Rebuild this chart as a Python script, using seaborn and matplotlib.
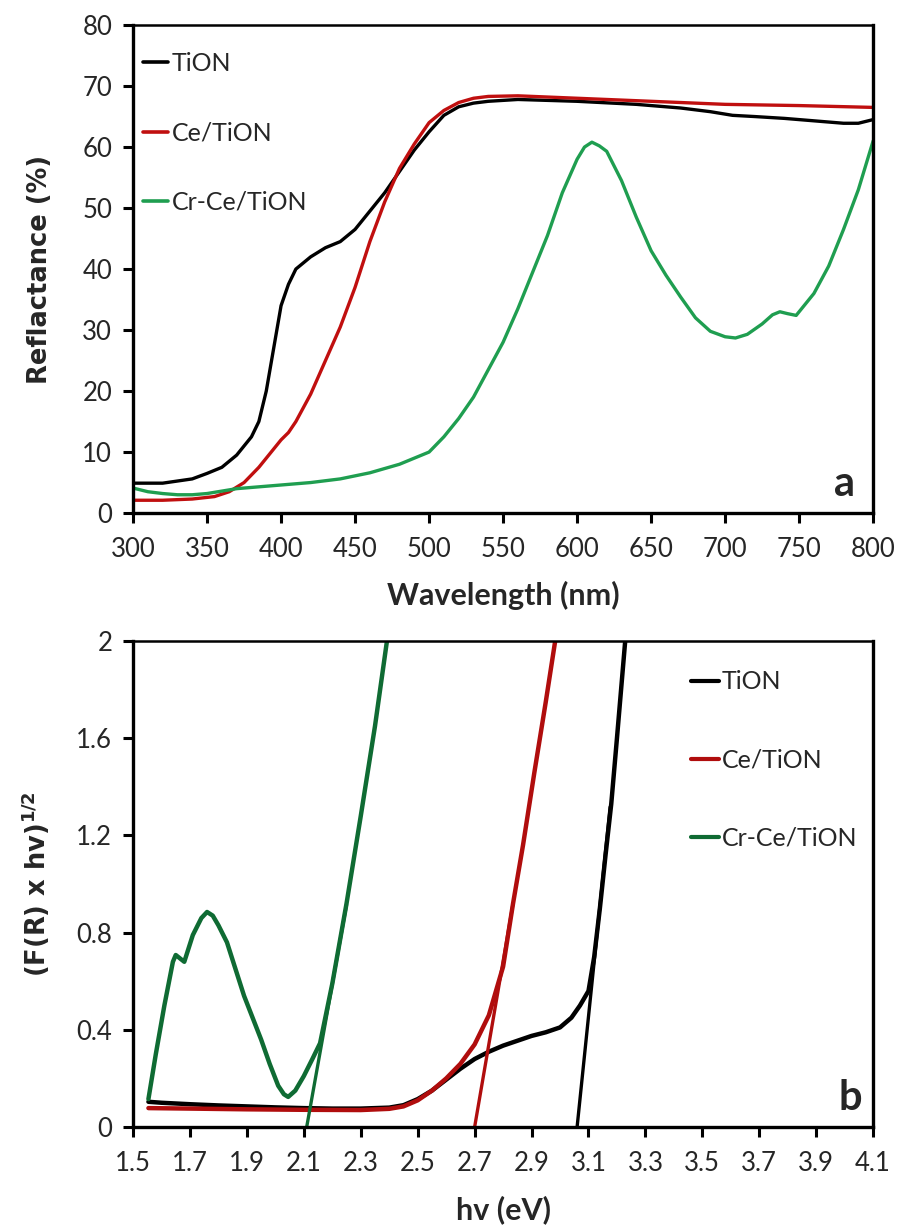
import numpy as np
import pandas as pd
import matplotlib
matplotlib.use("Agg")
import matplotlib.pyplot as plt
from matplotlib.lines import Line2D
import seaborn as sns

# ---------------- data: panel a (reflectance) ----------------
wl_tion = [300, 320, 340, 350, 360, 370, 380, 385, 390, 395, 400, 405, 410, 420, 430, 440,
           450, 460, 470, 480, 490, 500, 510, 520, 530, 540, 560, 600, 640, 670, 690, 705,
           720, 740, 760, 780, 790, 800]
r_tion = [4.9, 4.9, 5.6, 6.5, 7.5, 9.5, 12.5, 15.0, 20.0, 27.0, 34.0, 37.5, 40.0, 42.0, 43.5,
          44.5, 46.5, 49.5, 52.5, 56.0, 59.5, 62.5, 65.2, 66.6, 67.2, 67.5, 67.8, 67.5, 67.0,
          66.4, 65.8, 65.2, 65.0, 64.7, 64.3, 63.9, 63.9, 64.5]

wl_ce = [300, 320, 340, 355, 365, 375, 385, 395, 400, 405, 410, 420, 430, 440, 450, 460, 470,
         480, 490, 500, 510, 520, 530, 540, 560, 600, 650, 700, 750, 800]
r_ce = [2.1, 2.1, 2.3, 2.7, 3.5, 5.0, 7.5, 10.5, 12.0, 13.2, 15.0, 19.5, 25.0, 30.5, 37.0,
        44.5, 51.0, 56.5, 60.5, 64.0, 66.0, 67.3, 68.0, 68.3, 68.4, 68.0, 67.5, 67.0, 66.8, 66.5]

wl_cr = [300, 310, 320, 330, 340, 350, 360, 370, 380, 400, 420, 440, 460, 480, 500, 510, 520,
         530, 540, 550, 560, 570, 580, 590, 600, 605, 610, 615, 620, 630, 640, 650, 660, 670,
         680, 690, 700, 707, 715, 725, 732, 737, 742, 748, 755, 760, 770, 780, 790, 795, 800]
r_cr = [4.1, 3.5, 3.2, 3.0, 3.0, 3.2, 3.6, 4.0, 4.2, 4.6, 5.0, 5.6, 6.6, 8.0, 10.0, 12.5,
        15.5, 19.0, 23.5, 28.0, 33.5, 39.5, 45.5, 52.5, 58.0, 60.0, 60.8, 60.2, 59.3, 54.5,
        48.5, 43.0, 39.0, 35.4, 32.0, 29.8, 28.9, 28.7, 29.3, 31.0, 32.5, 33.0, 32.7, 32.4,
        34.5, 36.0, 40.5, 46.5, 53.0, 57.0, 61.0]

# ---------------- data: panel b (Tauc plot) ----------------
hv_tion = [1.554, 1.6, 1.7, 1.8, 1.9, 2.0, 2.1, 2.2, 2.3, 2.4, 2.45, 2.5, 2.55, 2.6, 2.65, 2.7,
           2.75, 2.8, 2.85, 2.9, 2.95, 3.0, 3.04, 3.07, 3.10, 3.12, 3.14, 3.16, 3.18, 3.20, 3.229]
f_tion = [0.104, 0.100, 0.094, 0.089, 0.085, 0.081, 0.078, 0.076, 0.076, 0.080, 0.090, 0.115,
          0.150, 0.195, 0.240, 0.280, 0.310, 0.335, 0.355, 0.375, 0.390, 0.410, 0.450, 0.500,
          0.560, 0.700, 0.900, 1.120, 1.330, 1.600, 2.000]

hv_ce = [1.554, 1.7, 1.9, 2.1, 2.3, 2.4, 2.45, 2.5, 2.55, 2.6, 2.65, 2.7, 2.75, 2.8, 2.835,
         2.87, 2.91, 2.95, 2.983]
f_ce = [0.078, 0.076, 0.073, 0.071, 0.070, 0.075, 0.085, 0.110, 0.150, 0.200, 0.260, 0.340,
        0.460, 0.660, 0.920, 1.160, 1.460, 1.750, 2.000]

hv_cr = [1.554, 1.58, 1.61, 1.64, 1.65, 1.68, 1.71, 1.74, 1.76, 1.78, 1.80, 1.83, 1.86, 1.89,
         1.92, 1.95, 1.98, 2.01, 2.03, 2.045, 2.07, 2.10, 2.13, 2.157, 2.20, 2.25, 2.30, 2.35,
         2.392]
f_cr = [0.115, 0.30, 0.50, 0.68, 0.708, 0.68, 0.79, 0.86, 0.885, 0.87, 0.83, 0.76, 0.65, 0.54,
        0.45, 0.36, 0.26, 0.17, 0.135, 0.124, 0.15, 0.21, 0.28, 0.345, 0.59, 0.92, 1.28, 1.65,
        2.00]

# tangent (band-gap) lines: x endpoints and y endpoints
tan_tion_x, tan_tion_y = [3.06, 3.176], [0.0, 1.317]
tan_ce_x, tan_ce_y = [2.70, 2.835], [0.0, 0.92]
tan_cr_x, tan_cr_y = [2.11, 2.25], [0.0, 0.915]

labels = ["TiON", "Ce/TiON", "Cr-Ce/TiON"]
x_ticks_a = list(range(300, 801, 50))
y_ticks_a = list(range(0, 81, 10))
x_ticks_b = [1.5, 1.7, 1.9, 2.1, 2.3, 2.5, 2.7, 2.9, 3.1, 3.3, 3.5, 3.7, 3.9, 4.1]
y_ticks_b = [0, 0.4, 0.8, 1.2, 1.6, 2]
y_ticklabels_b = ["0", "0.4", "0.8", "1.2", "1.6", "2"]

# ---------------- style ----------------
sns.set_style("white")
plt.rcParams["font.family"] = ["Lato", "DejaVu Sans"]
plt.rcParams["mathtext.fontset"] = "dejavusans"

col_a = {"TiON": "#000000", "Ce/TiON": "#c00f0f", "Cr-Ce/TiON": "#1f9e50"}
col_b = {"TiON": "#000000", "Ce/TiON": "#b00d0d", "Cr-Ce/TiON": "#0f6b33"}

df_a = pd.concat([
    pd.DataFrame({"x": wl_tion, "y": r_tion, "s": "TiON"}),
    pd.DataFrame({"x": wl_ce, "y": r_ce, "s": "Ce/TiON"}),
    pd.DataFrame({"x": wl_cr, "y": r_cr, "s": "Cr-Ce/TiON"}),
], ignore_index=True)
df_b = pd.concat([
    pd.DataFrame({"x": hv_tion, "y": f_tion, "s": "TiON"}),
    pd.DataFrame({"x": hv_ce, "y": f_ce, "s": "Ce/TiON"}),
    pd.DataFrame({"x": hv_cr, "y": f_cr, "s": "Cr-Ce/TiON"}),
], ignore_index=True)

fig = plt.figure(figsize=(9.02, 12.28), dpi=100)
ax1 = fig.add_axes([0.1475, 0.5822, 0.968 - 0.1475, 0.9796 - 0.5822])
ax2 = fig.add_axes([0.1475, 0.0822, 0.968 - 0.1475, 0.478 - 0.0822])

tick_fs = 18.5
ylab_font = dict(family=["DejaVu Sans"], fontweight="bold")
xlab_font = dict(family=["Lato", "DejaVu Sans"], fontweight="bold")

# panel a
sns.lineplot(data=df_a, x="x", y="y", hue="s", palette=col_a, hue_order=labels,
             sort=False, estimator=None, lw=2.4, legend=False, ax=ax1)
ax1.set_xlim(300, 800)
ax1.set_ylim(0, 80)
ax1.set_xticks(x_ticks_a)
ax1.set_yticks(y_ticks_a)
ax1.set_xlabel("Wavelength (nm)", fontsize=22, **xlab_font)
ax1.set_ylabel("Reflactance (%)", fontsize=18.5, **ylab_font)
ax1.xaxis.set_label_coords(0.5, -0.168)
ax1.yaxis.set_label_coords(-0.126, 0.5)
ax1.xaxis.label.set_va("center")
ax1.yaxis.label.set_va("center")
ax1.text(0.975, 0.02, "a", transform=ax1.transAxes, fontsize=30, fontweight="bold",
         ha="right", va="bottom")
h_a = [Line2D([], [], color=col_a[l], lw=2.6) for l in labels]
ax1.legend(h_a, labels, loc="upper left", bbox_to_anchor=(0.0, 0.965), frameon=False,
           fontsize=18, handlelength=1.0, handletextpad=0.15, labelspacing=1.85,
           borderaxespad=0.2, borderpad=0.2)

# panel b
sns.lineplot(data=df_b, x="x", y="y", hue="s", palette=col_b, hue_order=labels,
             sort=False, estimator=None, lw=3.2, legend=False, ax=ax2)
for tx, ty, l in [(tan_tion_x, tan_tion_y, "TiON"), (tan_ce_x, tan_ce_y, "Ce/TiON"),
                  (tan_cr_x, tan_cr_y, "Cr-Ce/TiON")]:
    sns.lineplot(x=tx, y=ty, color=col_b[l], lw=2.4, ax=ax2, legend=False)
ax2.set_xlim(1.5, 4.1)
ax2.set_ylim(0, 2)
ax2.set_xticks(x_ticks_b)
ax2.set_xticklabels([f"{v:.1f}" for v in x_ticks_b])
ax2.set_yticks(y_ticks_b)
ax2.set_yticklabels(y_ticklabels_b)
ax2.set_xlabel("hv (eV)", fontsize=22, **xlab_font)
ax2.set_ylabel(r"(F(R) x hv)$^{\mathregular{1/2}}$", fontsize=18.5, **ylab_font)
ax2.xaxis.set_label_coords(0.5, -0.171)
ax2.yaxis.set_label_coords(-0.132, 0.5)
ax2.xaxis.label.set_va("center")
ax2.yaxis.label.set_va("center")
ax2.text(0.985, 0.02, "b", transform=ax2.transAxes, fontsize=30, fontweight="bold",
         ha="right", va="bottom")
h_b = [Line2D([], [], color=col_b[l], lw=3.0) for l in labels]
ax2.legend(h_b, labels, loc="upper left", bbox_to_anchor=(0.74, 0.96), frameon=False,
           fontsize=18, handlelength=1.15, handletextpad=0.1, labelspacing=2.2,
           borderaxespad=0.2, borderpad=0.2)

for ax in (ax1, ax2):
    for sp in ax.spines.values():
        sp.set_visible(True)
        sp.set_linewidth(2.4)
        sp.set_color("black")
    ax.spines["top"].set_linewidth(1.8)
    ax.tick_params(axis="both", which="major", direction="out", length=7, width=2.2,
                   labelsize=tick_fs, color="black")
    ax.tick_params(axis="x", bottom=True, top=False, pad=10)
    ax.tick_params(axis="y", left=True, right=False, pad=8)
    ax.grid(False)

fig.savefig("out.png", dpi=100)
